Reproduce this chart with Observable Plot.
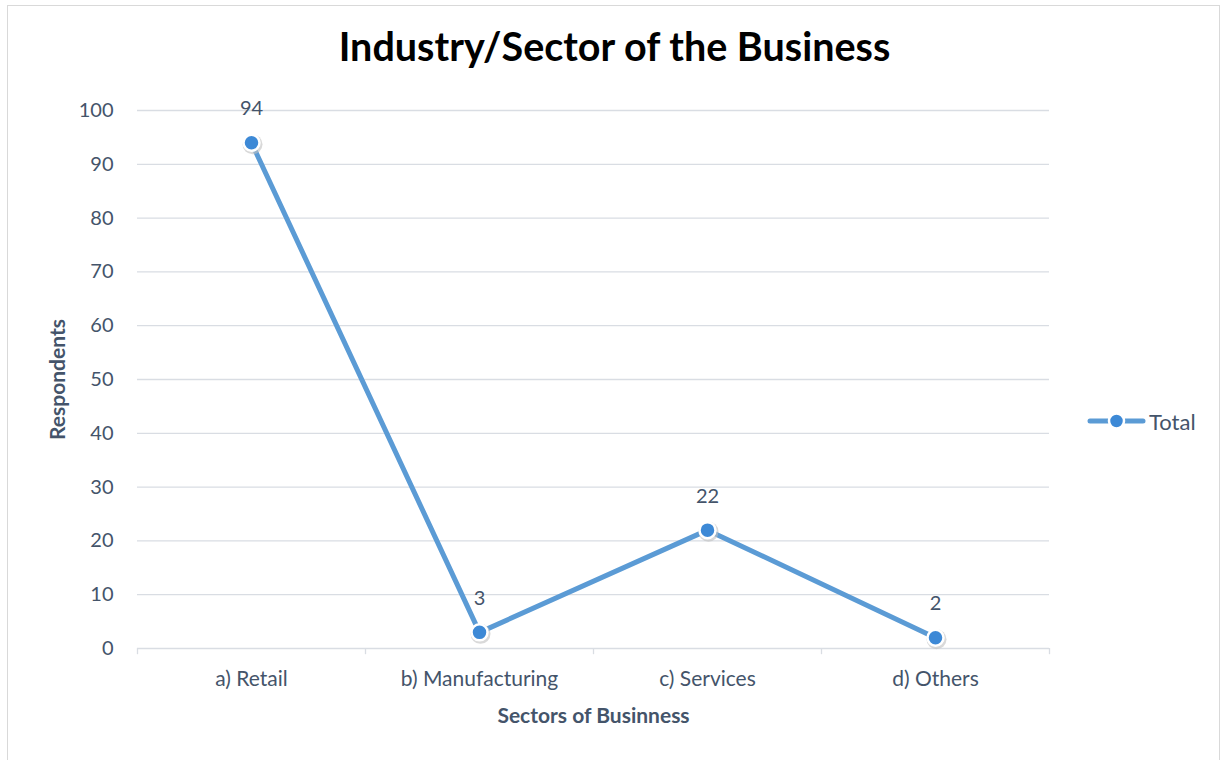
<!DOCTYPE html>
<html>
<head>
<meta charset="utf-8">
<script src="https://cdn.jsdelivr.net/npm/d3@7"></script>
<script src="https://cdn.jsdelivr.net/npm/@observablehq/plot@0.6"></script>
<style>
  html, body { margin: 0; padding: 0; background: #fff; }
  #wrap { position: relative; width: 1229px; height: 760px; overflow: hidden; font-family: Lato, "Open Sans", sans-serif; }
  #frame { position: absolute; left: 7px; top: 5px; width: 1213px; height: 770px; border: 1.5px solid #d9d9d9; box-sizing: border-box; }
  #title { position: absolute; left: 0; width: 1229px; top: 22px; text-align: center; font-size: 39.5px; font-weight: bold; color: #000; line-height: 48px; }
  #legend { position: absolute; left: 1088px; top: 407px; display: flex; align-items: center; font-size: 22px; color: #44546a; }
  #chart { position: absolute; left: 0; top: 0; }
</style>
</head>
<body>
<div id="wrap">
  <div id="frame"></div>
  <div id="chart"></div>
  <div id="title">Industry/Sector of the Business</div>
  <div id="legend">
    <svg width="58" height="28" style="overflow:visible">
      <line x1="2" y1="14" x2="55" y2="14" stroke="#5b9bd5" stroke-width="5" stroke-linecap="round"></line>
      <circle cx="28.5" cy="14" r="7.5" fill="#3d89d6" stroke="#fff" stroke-width="2.5"></circle>
    </svg>
    <span style="margin-left:3px">Total</span>
  </div>
</div>
<script>
const categories = ["a) Retail", "b) Manufacturing", "c) Services", "d) Others"];
const totals = [94, 3, 22, 2];
const yTicks = [0, 10, 20, 30, 40, 50, 60, 70, 80, 90, 100];
const seriesName = "Total";

const data = categories.map((c, i) => ({sector: c, value: totals[i], series: seriesName}));

const W = 1229, H = 760, ML = 137, MR = 180, MT = 110, MB = 112;
const step = (W - ML - MR) / categories.length;
const textColor = "#44546a";
const gridColor = "#d9dde3";

const chart = Plot.plot({
  width: W,
  height: H,
  marginLeft: ML,
  marginRight: MR,
  marginTop: MT,
  marginBottom: MB,
  style: {fontFamily: "Lato, 'Open Sans', sans-serif", fontSize: "20px", color: textColor, background: "transparent"},
  x: {type: "band", domain: categories, padding: 0, label: null},
  y: {domain: [0, 100], label: null},
  marks: [
    Plot.ruleY(yTicks, {stroke: gridColor, strokeWidth: 1.3}),
    Plot.ruleX(categories, {x: d => d, dx: -step / 2, y1: 0, y2: -1.15, stroke: gridColor, strokeWidth: 1.3}),
    Plot.ruleX(categories.slice(-1), {x: d => d, dx: step / 2, y1: 0, y2: -1.15, stroke: gridColor, strokeWidth: 1.3}),
    Plot.axisY({ticks: yTicks, tickSize: 0, tickPadding: 24, fontSize: 20, fill: textColor, label: null}),
    Plot.axisX({tickSize: 0, tickPadding: 23, fontSize: 21, fill: textColor, label: null}),
    Plot.text(["Sectors of Businness"], {frameAnchor: "bottom", dy: 74, fontSize: 21, fontWeight: "bold", fill: textColor}),
    Plot.text(["Respondents"], {frameAnchor: "left", textAnchor: "middle", dx: -79, rotate: -90, fontSize: 21, fontWeight: "bold", fill: textColor}),
    Plot.line(data, {x: "sector", y: "value", stroke: "#5b9bd5", strokeWidth: 5, strokeLinejoin: "round"}),
    Plot.dot(data, {x: "sector", y: "value", r: 10, fill: "#bfbfbf", fillOpacity: 0.6, dx: 1, dy: 1.5}),
    Plot.dot(data, {x: "sector", y: "value", r: 8, fill: "#3d89d6", stroke: "#fff", strokeWidth: 2.5}),
    Plot.text(data, {x: "sector", y: "value", text: d => String(d.value), dy: -34, fontSize: 20, fill: textColor})
  ]
});
document.getElementById("chart").appendChild(chart);
</script>
</body>
</html>
